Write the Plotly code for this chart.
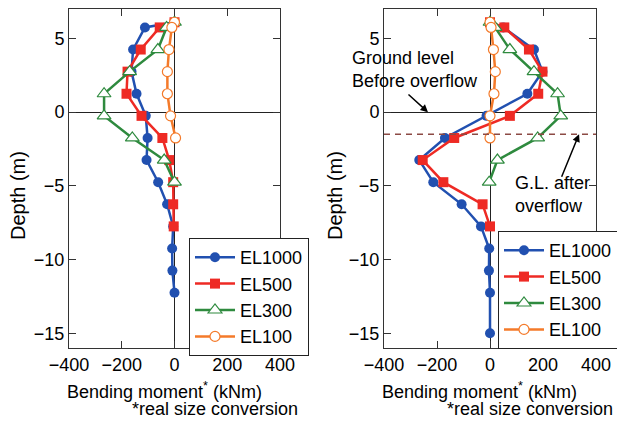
import plotly.graph_objects as go

# depth of each gauge (m)
depth = [6.1, 5.75, 4.25, 2.75, 1.25, -0.25, -1.75, -3.25, -4.75, -6.25, -7.75, -9.25, -10.75, -12.25, -15.0]

# bending moment (kNm), before overflow (left panel)
left_el1000 = [0, -112, -157, -163, -144, -109, -102, -106, -62, -28, -5, -9, -8, 0]
left_el500 = [0, -56, -128, -178, -182, -125, -46, -20, -5, -5, -3]
left_el300 = [0, -30, -63, -170, -267, -267, -160, -39, 0]
left_el100 = [0, -10, -21, -27, -27, -15, 4]

# bending moment (kNm), after overflow (right panel)
right_el1000 = [0, 50, 166, 198, 141, -13, -170, -267, -214, -107, -34, -3, -4, 0, 0]
right_el500 = [0, 54, 147, 198, 182, 75, -135, -254, -176, -28, 0]
right_el300 = [0, 19, 75, 166, 255, 267, 180, 28, -3]
right_el100 = [0, 4, 13, 20, 15, 0, 0]

names = ["EL1000", "EL500", "EL300", "EL100"]
colors = ["#2150b0", "#ee2a24", "#2e8a3e", "#f47a2a"]
markers = [
    dict(symbol="circle", size=10),
    dict(symbol="square", size=10),
    dict(symbol="triangle-up", size=12, color="white", line=dict(width=1.2)),
    dict(symbol="circle", size=10, color="white", line=dict(width=1.2)),
]
gl_after = -1.5

FONT = "Liberation Sans, Arial, sans-serif"

fig = go.Figure()

panels = [
    ("x", "y", "legend", [left_el1000, left_el500, left_el300, left_el100]),
    ("x2", "y2", "legend2", [right_el1000, right_el500, right_el300, right_el100]),
]
for xa, ya, leg, series in panels:
    for name, color, mk, vals in zip(names, colors, markers, series):
        m = dict(mk)
        m.setdefault("color", color)
        if "line" in m:
            m["line"] = dict(m["line"], color=color)
        fig.add_scatter(
            x=vals,
            y=depth[: len(vals)],
            name=name,
            mode="lines+markers",
            line=dict(color=color, width=2.5),
            marker=m,
            xaxis=xa,
            yaxis=ya,
            legend=leg,
        )

# ground level after overflow
fig.add_scatter(
    x=[-400, 400],
    y=[gl_after, gl_after],
    mode="lines",
    line=dict(color="#8c4a44", width=1.5, dash="6px,5px"),
    xaxis="x2",
    yaxis="y2",
    showlegend=False,
    hoverinfo="skip",
)

axis_common = dict(
    range=[-400, 400],
    tickvals=[-400, -200, 0, 200, 400],
    showgrid=False,
    showline=True,
    linecolor="#333",
    linewidth=1,
    mirror="ticks",
    ticks="inside",
    ticklen=7,
    tickcolor="#333",
    zeroline=True,
    zerolinecolor="#222",
    zerolinewidth=1,
    automargin=False,
    tickfont=dict(size=18, color="black"),
)
yaxis_common = dict(
    range=[-16, 7],
    tickvals=[-15, -10, -5, 0, 5],
    showgrid=False,
    showline=True,
    linecolor="#333",
    linewidth=1,
    mirror="ticks",
    ticks="inside",
    ticklen=7,
    tickcolor="#333",
    zeroline=True,
    zerolinecolor="#222",
    zerolinewidth=1,
    automargin=False,
    tickfont=dict(size=18, color="black"),
)

fig.update_layout(
    width=617,
    height=421,
    margin=dict(l=0, r=0, t=0, b=0, autoexpand=False),
    paper_bgcolor="white",
    plot_bgcolor="white",
    font=dict(family=FONT, size=18, color="black"),
    xaxis=dict(axis_common, domain=[69 / 617, 280 / 617], anchor="y"),
    yaxis=dict(yaxis_common, domain=[1 - 348 / 421, 1 - 9 / 421], anchor="x"),
    xaxis2=dict(axis_common, domain=[384 / 617, 596 / 617], anchor="y2"),
    yaxis2=dict(yaxis_common, domain=[1 - 348 / 421, 1 - 9 / 421], anchor="x2"),
    legend=dict(
        x=189 / 617, y=1 - 238 / 421, xanchor="left", yanchor="top",
        bordercolor="#222", borderwidth=1, bgcolor="white",
        font=dict(size=18), itemwidth=40, tracegroupgap=0,
    ),
    legend2=dict(
        x=498 / 617, y=1 - 231 / 421, xanchor="left", yanchor="top",
        bordercolor="#222", borderwidth=1, bgcolor="white",
        font=dict(size=18), itemwidth=40, tracegroupgap=0,
    ),
    showlegend=True,
)

annotations = []
for cx, rx in [(164, 300), (479, 615)]:
    annotations.append(dict(
        text="Bending moment<sup>*</sup> (kNm)", x=cx / 617, y=1 - 390 / 421,
        xref="paper", yref="paper", xanchor="center", yanchor="middle",
        showarrow=False, font=dict(size=18),
    ))
    annotations.append(dict(
        text="*real size conversion", x=rx / 617, y=1 - 409 / 421,
        xref="paper", yref="paper", xanchor="right", yanchor="middle",
        showarrow=False, font=dict(size=18),
    ))
for cx in [18, 335]:
    annotations.append(dict(
        text="Depth (m)", x=cx / 617, y=1 - 196 / 421, textangle=-90,
        xref="paper", yref="paper", xanchor="center", yanchor="middle",
        showarrow=False, font=dict(size=20),
    ))
annotations += [
    dict(
        text="Ground level<br>Before overflow", x=350 / 617, y=1 - 69 / 421,
        xref="paper", yref="paper", xanchor="left", yanchor="middle", align="left",
        showarrow=False, font=dict(size=18),
    ),
    dict(
        text="", x=-234, y=0, xref="x2", yref="y2", ax=-21, ay=-19,
        showarrow=True, arrowhead=2, arrowsize=1, arrowwidth=1.5, arrowcolor="black",
    ),
    dict(
        text="G.L. after<br>overflow", x=513 / 617, y=1 - 194 / 421,
        xref="paper", yref="paper", xanchor="left", yanchor="middle", align="left",
        showarrow=False, font=dict(size=18),
    ),
    dict(
        text="", x=336, y=gl_after, xref="x2", yref="y2", ax=-18, ay=44,
        showarrow=True, arrowhead=2, arrowsize=1, arrowwidth=1.5, arrowcolor="black",
    ),
]
fig.update_layout(annotations=annotations)

fig.write_html(
    "out.html",
    config={"displayModeBar": False},
    post_script="document.body.style.margin = '0';",
)
